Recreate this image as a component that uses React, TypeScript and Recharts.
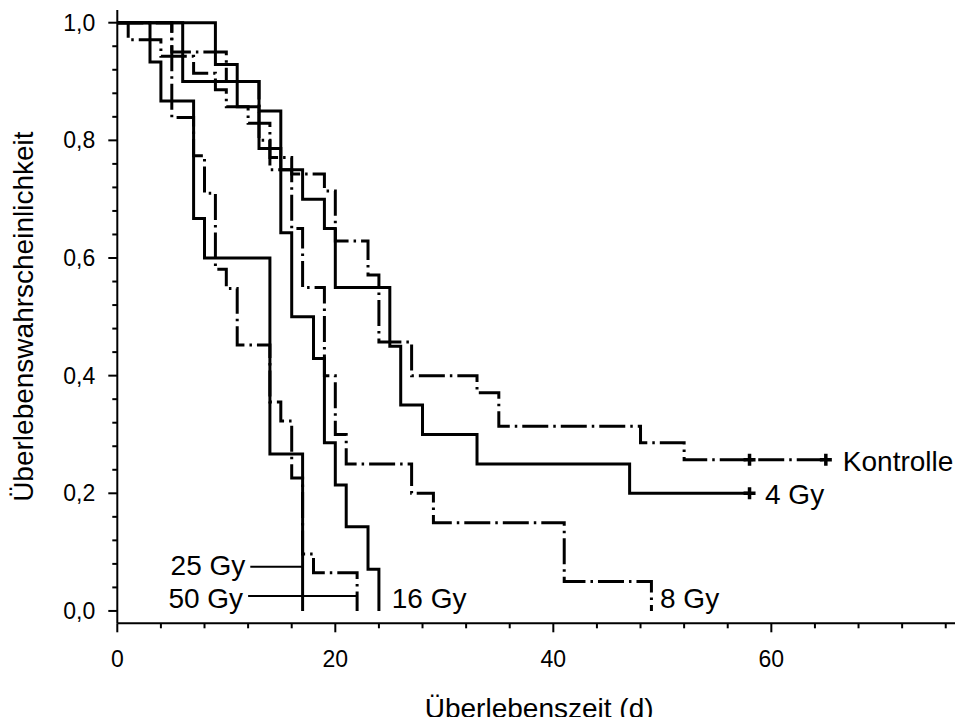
import { Line, LineChart, ReferenceDot, ReferenceLine, XAxis, YAxis } from "recharts";

const FONT = "'Liberation Sans', Arial, Helvetica, sans-serif";

// Kaplan-Meier steps: day of the event and the survival fraction after it
const controlDays = [0, 1, 4, 7, 9, 10, 12, 14, 16, 19, 20, 23, 24, 27, 33, 35, 48, 52, 58, 65];
const controlSurv = [1, 0.971, 0.943, 0.914, 0.886, 0.857, 0.829, 0.771, 0.743, 0.714, 0.629, 0.571, 0.457, 0.4, 0.371, 0.314, 0.286, 0.257, 0.257, 0.257];
const controlCensored = [58, 65];

const gy4Days = [0, 6, 13, 15, 17, 19, 20, 25, 26, 28, 33, 47, 58];
const gy4Surv = [1, 0.9, 0.85, 0.75, 0.7, 0.65, 0.55, 0.45, 0.35, 0.3, 0.25, 0.2, 0.2];
const gy4Censored = [58];

const gy8Days = [0, 5, 10, 13, 14, 16, 17, 19, 20, 21, 27, 29, 41, 49];
const gy8Surv = [1, 0.95, 0.9, 0.8, 0.75, 0.65, 0.55, 0.4, 0.3, 0.25, 0.2, 0.15, 0.05, 0];

const gy16Days = [0, 9, 11, 13, 15, 16, 18, 19, 20, 21, 23, 24];
const gy16Surv = [1, 0.929, 0.857, 0.786, 0.643, 0.5, 0.429, 0.286, 0.214, 0.143, 0.071, 0];

const gy25Days = [0, 5, 7, 8, 9, 10, 11, 14, 15, 16, 17, 18, 22];
const gy25Surv = [1, 0.839, 0.774, 0.71, 0.581, 0.548, 0.452, 0.355, 0.323, 0.226, 0.097, 0.065, 0];

const gy50Days = [0, 3, 4, 7, 8, 14, 17];
const gy50Surv = [1, 0.933, 0.867, 0.667, 0.6, 0.267, 0];

// axis ticks
const xTicks = [0, 4, 8, 12, 16, 20, 24, 28, 32, 36, 40, 44, 48, 52, 56, 60, 64, 68, 72, 76];
const xLabels = [0, 20, 40, 60];
const yTicks = [
  0, 0.04, 0.08, 0.12, 0.16, 0.2, 0.24, 0.28, 0.32, 0.36, 0.4, 0.44, 0.48,
  0.52, 0.56, 0.6, 0.64, 0.68, 0.72, 0.76, 0.8, 0.84, 0.88, 0.92, 0.96, 1,
];
const yLabels = [0, 0.2, 0.4, 0.6, 0.8, 1];

const X_DOMAIN: [number, number] = [0, 77.4];
const Y_DOMAIN: [number, number] = [-0.021, 1.0216];
const DASH_DOT = "26 5 2.5 5";

type Row = { t: number; s: number; c: boolean };

const toRows = (days: number[], surv: number[], censored: number[] = []): Row[] =>
  days.map((t, i) => ({ t, s: surv[i], c: censored.includes(t) }));

const isMajor = (list: number[], v: number) => list.some((l) => Math.abs(l - v) < 1e-6);

const renderXTick = (props: any) => {
  const { x, y, payload } = props;
  const v = payload.value as number;
  const major = isMajor(xLabels, v);
  return (
    <g>
      <line x1={x} x2={x} y1={y} y2={y + (major ? 9 : 5)} stroke="#000" strokeWidth={2} />
      {major && (
        <text x={x} y={y + 43.4} textAnchor="middle" fontSize={23} fontFamily={FONT} fill="#000">
          {v}
        </text>
      )}
    </g>
  );
};

const renderYTick = (props: any) => {
  const { x, y, payload } = props;
  const v = payload.value as number;
  const major = isMajor(yLabels, v);
  return (
    <g>
      <line x1={x - (major ? 9 : 5)} x2={x} y1={y} y2={y} stroke="#000" strokeWidth={2} />
      {major && (
        <text x={x - 22} y={y + 8} textAnchor="end" fontSize={23} fontFamily={FONT} fill="#000">
          {v.toFixed(1).replace(".", ",")}
        </text>
      )}
    </g>
  );
};

const renderXTitle = (props: any) => {
  const vb = props.viewBox ?? { x: 109.3, y: 615.3, width: 843.7, height: 90 };
  return (
    <text x={vb.x + vb.width / 2} y={vb.y + 95} textAnchor="middle" fontSize={28} fontFamily={FONT} fill="#000">
      Überlebenszeit (d)
    </text>
  );
};

const renderYTitle = (props: any) => {
  const vb = props.viewBox ?? { x: 9.3, y: 2, width: 100, height: 613.3 };
  const cx = vb.x + 16;
  const cy = vb.y + vb.height / 2;
  return (
    <text x={cx} y={cy} transform={`rotate(-90, ${cx}, ${cy})`} textAnchor="middle" fontSize={28} fontFamily={FONT} fill="#000">
      Überlebenswahrscheinlichkeit
    </text>
  );
};

// censored observations are marked with a "+"
const censorDot = (props: any) => {
  const { cx, cy, payload, index } = props;
  if (!payload || !payload.c) return <g key={`d-${index}`} />;
  return (
    <path
      key={`d-${index}`}
      d={`M${cx - 6},${cy} H${cx + 6} M${cx},${cy - 6} V${cy + 6}`}
      stroke="#000"
      strokeWidth={3.5}
      fill="none"
    />
  );
};

const curveLabel =
  (text: string, dx: number, dy: number, anchor: "start" | "end" = "start") =>
  (p: any) => (
    <text x={p.cx + dx} y={p.cy + dy} textAnchor={anchor} fontSize={28} fontFamily={FONT} fill="#000">
      {text}
    </text>
  );

const SurvivalChart = () => {
  const series = [
    { name: "Kontrolle", rows: toRows(controlDays, controlSurv, controlCensored), dash: DASH_DOT },
    { name: "4 Gy", rows: toRows(gy4Days, gy4Surv, gy4Censored), dash: undefined },
    { name: "8 Gy", rows: toRows(gy8Days, gy8Surv), dash: DASH_DOT },
    { name: "16 Gy", rows: toRows(gy16Days, gy16Surv), dash: undefined },
    { name: "25 Gy", rows: toRows(gy25Days, gy25Surv), dash: DASH_DOT },
    { name: "50 Gy", rows: toRows(gy50Days, gy50Surv), dash: undefined },
  ];

  return (
    <div style={{ width: 954, height: 709 }}>
      <LineChart width={954} height={717} margin={{ top: 2, right: 1, bottom: 11.7, left: 9.3 }}>
        <XAxis
          dataKey="t"
          type="number"
          domain={X_DOMAIN}
          allowDataOverflow
          ticks={xTicks}
          interval={0}
          tickSize={0}
          tickMargin={0}
          tickLine={false}
          tick={renderXTick}
          axisLine={{ stroke: "#000", strokeWidth: 2 }}
          height={90}
          label={renderXTitle}
        />
        <XAxis
          xAxisId="top"
          orientation="top"
          type="number"
          domain={X_DOMAIN}
          allowDataOverflow
          height={0}
          tick={false}
          tickLine={false}
          axisLine={{ stroke: "#000", strokeWidth: 2 }}
        />
        <YAxis
          type="number"
          domain={Y_DOMAIN}
          allowDataOverflow
          ticks={yTicks}
          interval={0}
          tickSize={0}
          tickMargin={0}
          tickLine={false}
          tick={renderYTick}
          axisLine={{ stroke: "#000", strokeWidth: 2 }}
          width={100}
          label={renderYTitle}
        />

        {series.map((s) => (
          <Line
            key={s.name}
            name={s.name}
            data={s.rows}
            dataKey="s"
            type="stepAfter"
            stroke="#000"
            strokeWidth={3}
            strokeDasharray={s.dash}
            dot={censorDot}
            activeDot={false}
            isAnimationActive={false}
          />
        ))}

        {/* pointer lines for the two short curves */}
        <ReferenceLine segment={[{ x: 12.2, y: 0.0753 }, { x: 17, y: 0.0753 }]} stroke="#000" strokeWidth={2} />
        <ReferenceLine segment={[{ x: 12.0, y: 0.0255 }, { x: 22, y: 0.0255 }]} stroke="#000" strokeWidth={2} />

        <ReferenceDot x={65} y={0.257} r={0} shape={curveLabel("Kontrolle", 17, 11)} />
        <ReferenceDot x={58} y={0.2} r={0} shape={curveLabel("4 Gy", 15.5, 10.7)} />
        <ReferenceDot x={49} y={0} r={0} shape={curveLabel("8 Gy", 8.6, -3)} />
        <ReferenceDot x={24} y={0} r={0} shape={curveLabel("16 Gy", 12.8, -3)} />
        <ReferenceDot x={12.2} y={0.0753} r={0} shape={curveLabel("25 Gy", -5, 8.3, "end")} />
        <ReferenceDot x={12.0} y={0.0255} r={0} shape={curveLabel("50 Gy", -5, 12, "end")} />
      </LineChart>
    </div>
  );
};

export default function App() {
  return <SurvivalChart />;
}
